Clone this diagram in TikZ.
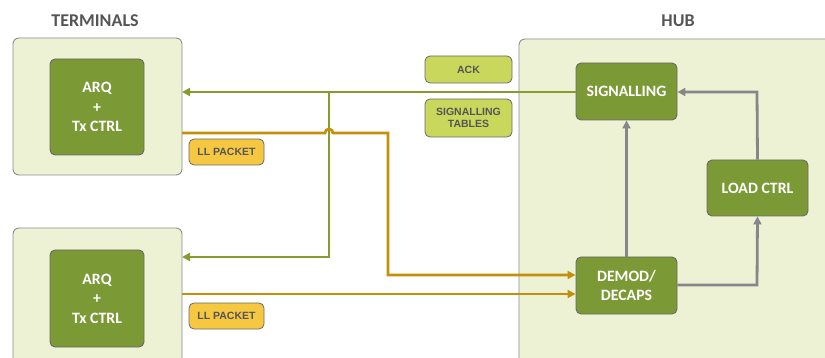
\documentclass[tikz,border=0pt]{standalone}
\usepackage{fontspec}
\setmainfont{Carlito}
\newfontfamily\arialb{Liberation Sans}
\usetikzlibrary{arrows.meta}
\definecolor{panelfill}{HTML}{EEF2D5}
\definecolor{panelline}{HTML}{8C8C94}
\definecolor{blockfill}{HTML}{7B9934}
\definecolor{blockline}{HTML}{6A6A6A}
\definecolor{tagfill}{HTML}{C9D75C}
\definecolor{pktfill}{HTML}{F6C842}
\definecolor{sigline}{HTML}{8A9A2E}
\definecolor{pktline}{HTML}{C4900C}
\definecolor{ctlline}{HTML}{85878A}
\definecolor{titlecol}{HTML}{555555}
\tikzset{
  panel/.style={draw=panelline, fill=panelfill, rounded corners=6pt, line width=0.9pt},
  block/.style={draw=blockline, fill=blockfill, rounded corners=5pt, line width=0.9pt,
    text=white, font=\bfseries\fontsize{15.8}{19.5}\selectfont, align=center, inner sep=0pt},
  tagbox/.style={draw=blockline, fill=tagfill, rounded corners=5pt, line width=0.8pt,
    text=titlecol, font=\arialb\bfseries\fontsize{10.5}{12.5}\selectfont, align=center, inner sep=0pt},
  pktbox/.style={tagbox, fill=pktfill},
  title/.style={text=titlecol, font=\bfseries\fontsize{18}{20}\selectfont},
  sigarrow/.style={draw=sigline, line width=2.8pt, -{Triangle[length=8pt,width=8pt]}},
  pktarrow/.style={draw=pktline, line width=2.8pt, -{Triangle[length=8pt,width=8pt]}},
  ctlarrow/.style={draw=ctlline, line width=2.8pt, -{Triangle[length=8pt,width=8pt]}},
}
\begin{document}
\begin{tikzpicture}[x=1pt,y=-1pt]
\useasboundingbox (0,0) rectangle (825,358);
% panels
\path[panel] (13,38) rectangle (182,175);
\path[panel] (13,228) rectangle (182,372);
\path[panel] (519,39) rectangle (840,372);
\node[title] (tterm) at (95,21) {TERMINALS};
\node[title] (thub) at (678,21) {HUB};
% terminal blocks
\node[block, minimum width=94pt, minimum height=96pt] (arq1) at (97,107) {ARQ\\+\\Tx CTRL};
\node[block, minimum width=94pt, minimum height=97pt] (arq2) at (97,298.5) {ARQ\\+\\Tx CTRL};
% hub blocks
\node[block, minimum width=101pt, minimum height=57pt] (sig) at (626.5,91.5) {SIGNALLING};
\node[block, minimum width=101pt, minimum height=56pt] (load) at (757.5,188) {LOAD CTRL};
\node[block, minimum width=101pt, minimum height=57pt] (demod) at (626.5,285.5) {DEMOD/\\DECAPS};
% tags
\node[pktbox, minimum width=75pt, minimum height=26pt] (pkt1) at (226.5,152) {LL PACKET};
\node[pktbox, minimum width=75pt, minimum height=26pt] (pkt2) at (226.5,316) {LL PACKET};
\node[tagbox, minimum width=87pt, minimum height=27pt] (ack) at (468.5,69.5) {ACK};
\node[tagbox, minimum width=87pt, minimum height=38pt] (sigtab) at (468.5,118) {SIGNALLING\\TABLES};
% coordinates
\coordinate (t1in) at (182,92);
\coordinate (t2in) at (182,257);
\coordinate (t1out) at (182,133);
\coordinate (t2out) at (182,294);
\coordinate (br) at (329,92);
% signalling lines
\draw[sigarrow] (sig.west |- 0,92) -- (t1in);
\draw[sigarrow] (br) -- (329,257) -- (t2in);
% packet lines
\draw[pktarrow] (t1out) -- (325,133) arc[start angle=180, end angle=0, radius=4pt] -- (388,133) -- (388,275) -- (demod.west |- 0,275);
\draw[pktarrow] (t2out) -- (demod.west |- 0,294);
% control lines
\draw[ctlarrow] (demod.north) -- (sig.south);
\draw[ctlarrow] (demod.east |- 0,285) -- (757,285) -- (load.south);
\draw[ctlarrow] (load.north) -- (757,92) -- (sig.east |- 0,92);
\end{tikzpicture}
\end{document}
